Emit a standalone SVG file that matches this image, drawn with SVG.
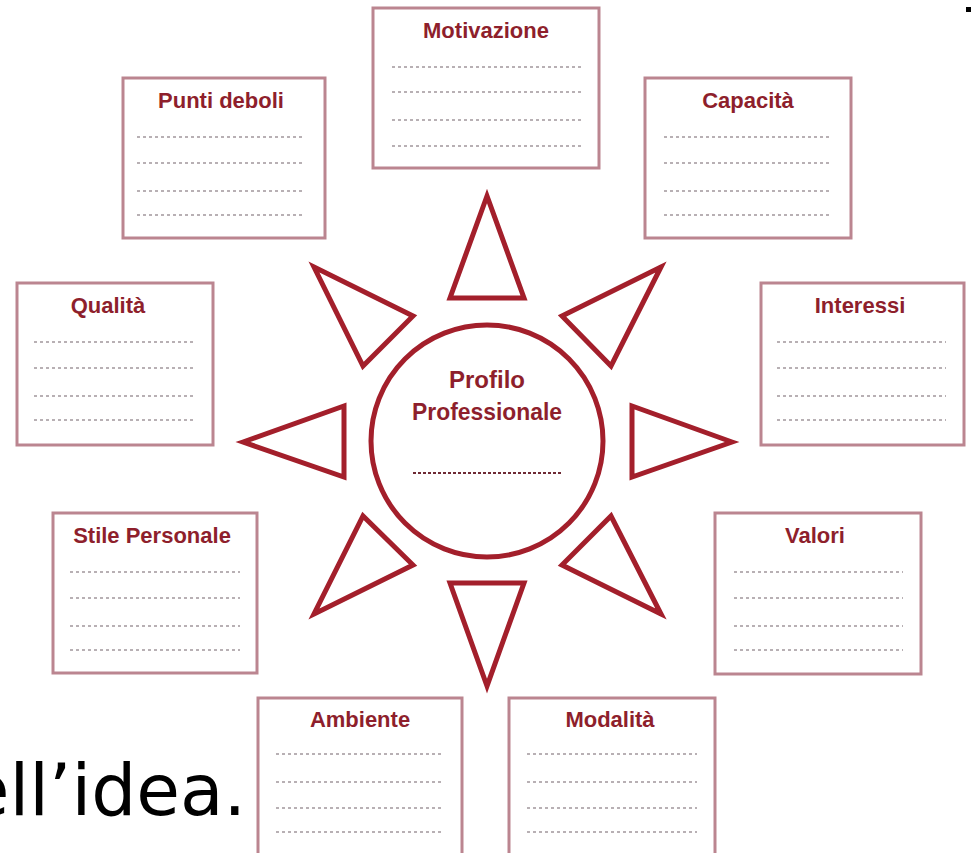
<svg xmlns="http://www.w3.org/2000/svg" width="971" height="853" viewBox="0 0 971 853">
<defs>
<style>
.box{fill:#ffffff;stroke:#bb8590;stroke-width:3}
.ttl{font-family:"Liberation Sans",Arial,sans-serif;font-weight:bold;font-size:22px;fill:#8e1f2c;text-anchor:middle}
.dot{stroke:#b8b0b4;stroke-width:2;stroke-dasharray:3 3;fill:none}
.ray{fill:#ffffff;stroke:#a31f2b;stroke-width:5;stroke-linejoin:miter}
.ctr{font-family:"Liberation Sans",Arial,sans-serif;font-weight:bold;font-size:24px;fill:#8e1f2c;text-anchor:middle}
</style>
</defs>
<rect width="971" height="853" fill="#ffffff"/>
<rect x="966" y="7" width="5" height="5" fill="#000000"/>
<text x="246" y="815" text-anchor="end" font-family="'DejaVu Sans',Verdana,sans-serif" font-size="71" fill="#000000">ell’idea.</text>

<g id="motivazione">
<rect class="box" x="373" y="8" width="226" height="160"/>
<text class="ttl" x="486" y="38">Motivazione</text>
<path class="dot" d="M392 67H582M392 92H582M392 120H582M392 146H582"/>
</g>
<g id="punti-deboli">
<rect class="box" x="123" y="78" width="202" height="160"/>
<text class="ttl" x="221" y="108">Punti deboli</text>
<path class="dot" d="M137 137H303M137 163H303M137 191H303M137 215H303"/>
</g>
<g id="capacita">
<rect class="box" x="645" y="78" width="206" height="160"/>
<text class="ttl" x="748" y="108">Capacità</text>
<path class="dot" d="M664 137H832M664 163H832M664 191H832M664 215H832"/>
</g>
<g id="qualita">
<rect class="box" x="17" y="283" width="196" height="162"/>
<text class="ttl" x="108" y="313">Qualità</text>
<path class="dot" d="M34 342H196M34 368H196M34 396H196M34 420H196"/>
</g>
<g id="interessi">
<rect class="box" x="761" y="283" width="203" height="162"/>
<text class="ttl" x="860" y="313">Interessi</text>
<path class="dot" d="M777 342H946M777 368H946M777 396H946M777 420H946"/>
</g>
<g id="stile-personale">
<rect class="box" x="53" y="513" width="204" height="160"/>
<text class="ttl" x="152" y="543">Stile Personale</text>
<path class="dot" d="M70 572H240M70 598H240M70 626H240M70 650H240"/>
</g>
<g id="valori">
<rect class="box" x="715" y="513" width="206" height="161"/>
<text class="ttl" x="815" y="543">Valori</text>
<path class="dot" d="M734 572H903M734 598H903M734 626H903M734 650H903"/>
</g>
<g id="ambiente">
<rect class="box" x="258" y="698" width="204" height="170"/>
<text class="ttl" x="360" y="727">Ambiente</text>
<path class="dot" d="M276 754H444M276 782H444M276 808H444M276 832H444"/>
</g>
<g id="modalita">
<rect class="box" x="509" y="698" width="206" height="170"/>
<text class="ttl" x="610" y="727">Modalità</text>
<path class="dot" d="M527 754H697M527 782H697M527 808H697M527 832H697"/>
</g>

<g id="profilo-professionale">
<circle cx="487" cy="441" r="116" fill="#ffffff" stroke="#a31f2b" stroke-width="5"/>
<text class="ctr" x="487" y="388">Profilo</text>
<text class="ctr" x="487" y="420" textLength="150" lengthAdjust="spacingAndGlyphs">Professionale</text>
<path d="M413 473H561" stroke="#6e2a34" stroke-width="2" stroke-dasharray="3 2" fill="none"/>
</g>

<g id="connectors">
<polygon class="ray" points="487,196 450,298 524,298"/>
<polygon class="ray" points="487,686 450,583 524,583"/>
<polygon class="ray" points="243,442 344,406 344,477"/>
<polygon class="ray" points="732,442 632,406 632,477"/>
<polygon class="ray" points="314,267 413,316 363,366"/>
<polygon class="ray" points="661,267 562,316 611,366"/>
<polygon class="ray" points="314,614 413,565 363,516"/>
<polygon class="ray" points="661,614 562,565 611,516"/>
</g>
</svg>
